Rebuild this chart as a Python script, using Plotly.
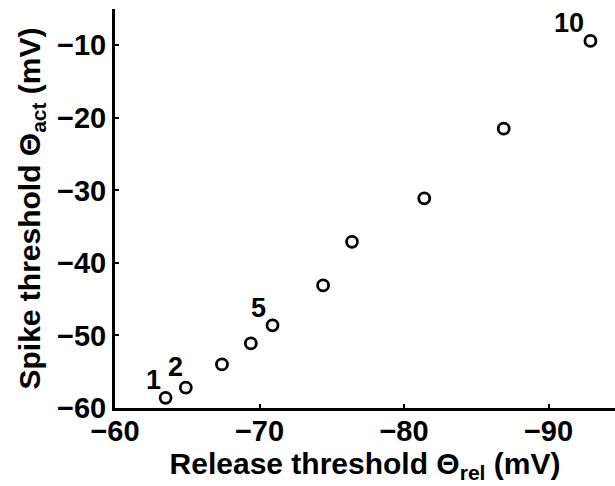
import plotly.graph_objects as go

release_threshold = [-63.5, -64.9, -67.4, -69.4, -70.9, -74.4, -76.4, -81.4, -86.9, -92.9]
spike_threshold = [-58.6, -57.2, -54.0, -51.1, -48.6, -43.1, -37.1, -31.1, -21.5, -9.4]
point_labels = ["1", "2", "", "", "5", "", "", "", "", "10"]
label_shifts = {"1": (-12, 18), "2": (-10, 21), "5": (-14, 17), "10": (-21, 18)}

x_ticks = [-60, -70, -80, -90]
y_ticks = [-60, -50, -40, -30, -20, -10]

FONT = "Liberation Sans, Arial, sans-serif"

fig = go.Figure()
fig.add_trace(go.Scatter(
    x=release_threshold, y=spike_threshold, mode="markers",
    marker=dict(symbol="circle-open", size=11, color="black", line=dict(width=2.8, color="black")),
    showlegend=False, hoverinfo="skip",
))

for xv, yv, lab in zip(release_threshold, spike_threshold, point_labels):
    if lab:
        dx, dy = label_shifts[lab]
        fig.add_annotation(x=xv, y=yv, xref="x", yref="y", text=lab, showarrow=False,
                           xshift=dx, yshift=dy,
                           font=dict(family=FONT, size=27, color="black", weight="bold"))

axis_common = dict(
    showline=True, linecolor="black", linewidth=3, showgrid=False, zeroline=False,
    ticks="inside", ticklen=4, tickwidth=2, tickcolor="black",
    tickfont=dict(family=FONT, size=29, color="black", weight="bold"),
)

fig.update_layout(
    width=615, height=486,
    margin=dict(l=115, r=0, t=9, b=78, autoexpand=False),
    paper_bgcolor="white", plot_bgcolor="white",
    xaxis=dict(range=[-60, -94.6], tickvals=x_ticks, ticktext=["\u2212" + str(abs(v)) for v in x_ticks],
               ticklabelstandoff=-5, automargin=False,
               title=dict(text="Release threshold \u0398<sub>rel</sub> (mV)", standoff=0,
                          font=dict(family=FONT, size=30, color="black", weight="bold")),
               **axis_common),
    yaxis=dict(range=[-60, -5], tickvals=y_ticks, ticktext=["\u2212" + str(abs(v)) for v in y_ticks],
               ticklabelstandoff=0, automargin=False,
               title=dict(text="Spike threshold \u0398<sub>act</sub> (mV)", standoff=8,
                          font=dict(family=FONT, size=30, color="black", weight="bold")),
               **axis_common),
)

fig.write_html("out.html")
